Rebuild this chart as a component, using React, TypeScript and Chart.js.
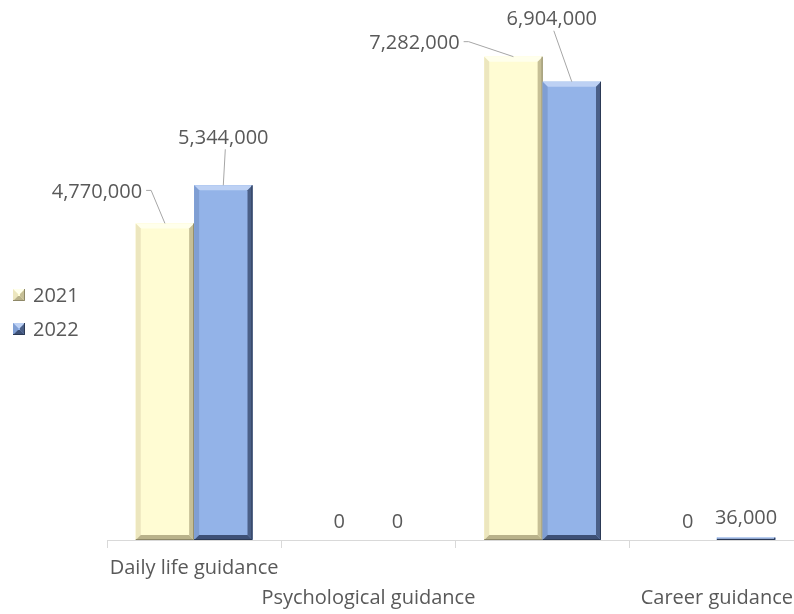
import React, { useEffect, useRef } from "react";
import { Chart, registerables } from "chart.js";

Chart.register(...registerables);

// ---- data ----
const categories = ["Daily life guidance", "Psychological guidance", "", "Career guidance"];
const seriesNames = ["2021", "2022"];
const values2021 = [4770000, 0, 7282000, 0];
const values2022 = [5344000, 0, 6904000, 36000];
const yMax = 8000000;
// data label offsets (label centre relative to bar top centre) and leader-line flags
const labelDx2021 = [-68, 0, -99, 0];
const labelDy2021 = [-31, -18, -13, -18];
const labelDx2022 = [0, 0, -20, 0];
const labelDy2022 = [-47, -18, -62, -19];
const leader2021 = [true, false, true, false];
const leader2022 = [true, false, true, false];

const FONT = "'Open Sans', sans-serif";
const TEXT = "#595959";

type Pal = { fill: string; top: string; left: string; right: string; bottom: string; edge: string };
const palettes: Pal[] = [
  { fill: "#FFFCD3", top: "#FFFFEC", left: "#ECE6BE", right: "#C6BF96", bottom: "#B9B28A", edge: "#8E8868" },
  { fill: "#93B3E8", top: "#BDD1F4", left: "#7F9ED3", right: "#4A5F87", bottom: "#3D5076", edge: "#2C3A55" },
];

function drawBevel(ctx: CanvasRenderingContext2D, l: number, t: number, r: number, b: number, p: Pal) {
  const w = r - l;
  const h = b - t;
  if (w <= 0 || h <= 0.3) return;
  const s = Math.min(5, h / 2, w / 2);
  ctx.save();
  ctx.fillStyle = p.fill;
  ctx.fillRect(l, t, w, h);
  const poly = (pts: number[][], c: string) => {
    ctx.beginPath();
    ctx.moveTo(pts[0][0], pts[0][1]);
    for (let i = 1; i < pts.length; i++) ctx.lineTo(pts[i][0], pts[i][1]);
    ctx.closePath();
    ctx.fillStyle = c;
    ctx.fill();
  };
  poly([[l, t], [r, t], [r - s, t + s], [l + s, t + s]], p.top);
  poly([[l, t], [l + s, t + s], [l + s, b - s], [l, b]], p.left);
  poly([[r, t], [r, b], [r - s, b - s], [r - s, t + s]], p.right);
  poly([[l, b], [l + s, b - s], [r - s, b - s], [r, b]], p.bottom);
  ctx.strokeStyle = p.edge;
  ctx.lineWidth = 1;
  ctx.beginPath();
  ctx.moveTo(r - 0.5, t);
  ctx.lineTo(r - 0.5, b - 0.5);
  ctx.lineTo(l, b - 0.5);
  ctx.stroke();
  ctx.restore();
}

const bevelPlugin = {
  id: "bevel",
  afterDatasetsDraw(chart: any) {
    const ctx = chart.ctx;
    chart.data.datasets.forEach((_: any, di: number) => {
      const meta = chart.getDatasetMeta(di);
      meta.data.forEach((el: any) => {
        const l = el.x - el.width / 2;
        const r = el.x + el.width / 2;
        const t = Math.min(el.y, el.base);
        const b = Math.max(el.y, el.base);
        drawBevel(ctx, l, t, r, b, palettes[di]);
      });
    });
  },
};

const labelPlugin = {
  id: "valueLabels",
  afterDatasetsDraw(chart: any) {
    const ctx = chart.ctx;
    const dxs = [labelDx2021, labelDx2022];
    const dys = [labelDy2021, labelDy2022];
    const leads = [leader2021, leader2022];
    ctx.save();
    ctx.font = `20px ${FONT}`;
    ctx.textAlign = "center";
    ctx.textBaseline = "middle";
    chart.data.datasets.forEach((ds: any, di: number) => {
      const meta = chart.getDatasetMeta(di);
      meta.data.forEach((el: any, j: number) => {
        const v = ds.data[j];
        const txt = v.toLocaleString("en-US");
        const tx = el.x;
        const ty = Math.min(el.y, el.base);
        const cx = tx + dxs[di][j];
        const cy = ty + dys[di][j];
        ctx.fillStyle = TEXT;
        ctx.fillText(txt, cx, cy);
        if (leads[di][j]) {
          const w = ctx.measureText(txt).width;
          ctx.strokeStyle = "#A6A6A6";
          ctx.lineWidth = 1;
          ctx.beginPath();
          if (tx > cx + w / 2) {
            const sx = cx + w / 2 + 4;
            const sy = cy - 2;
            ctx.moveTo(sx, sy);
            ctx.lineTo(sx + 5, sy);
            ctx.lineTo(tx, ty);
          } else {
            ctx.moveTo(cx + 2, cy + 11);
            ctx.lineTo(tx, ty);
          }
          ctx.stroke();
        }
      });
    });
    ctx.restore();
  },
};

const legendPlugin = {
  id: "sideLegend",
  afterDraw(chart: any) {
    const ctx = chart.ctx;
    ctx.save();
    ctx.font = `20px ${FONT}`;
    ctx.textAlign = "left";
    ctx.textBaseline = "middle";
    seriesNames.forEach((name, i) => {
      const cy = 295 + i * 34;
      drawBevel(ctx, 13, cy - 6, 25, cy + 6, palettes[i]);
      ctx.fillStyle = TEXT;
      ctx.fillText(name, 33, cy + 1);
    });
    ctx.restore();
  },
};

export default function App() {
  const ref = useRef<HTMLCanvasElement>(null);
  useEffect(() => {
    if (!ref.current) return;
    const labels = categories.map((c, i) => (i % 2 === 1 ? ["", c] : [c]));
    const chart = new Chart(ref.current, {
      type: "bar",
      data: {
        labels,
        datasets: [
          { label: seriesNames[0], data: values2021, backgroundColor: palettes[0].fill, borderWidth: 0 },
          { label: seriesNames[1], data: values2022, backgroundColor: palettes[1].fill, borderWidth: 0 },
        ],
      },
      options: {
        responsive: false,
        animation: false,
        layout: { padding: { left: 107, right: 6, top: 9, bottom: 1 } },
        datasets: { bar: { barPercentage: 1, categoryPercentage: 0.67 } },
        plugins: { legend: { display: false }, tooltip: { enabled: false } },
        scales: {
          x: {
            grid: { display: true, drawOnChartArea: false, drawTicks: true, tickLength: 8, color: "#D9D9D9", offset: true },
            border: { display: true, color: "#D9D9D9" },
            ticks: {
              autoSkip: false,
              maxRotation: 0,
              minRotation: 0,
              padding: 5,
              color: TEXT,
              font: { family: FONT, size: 20, lineHeight: 1.5 },
            },
          },
          y: { display: false, min: 0, max: yMax },
        },
      },
      plugins: [bevelPlugin, labelPlugin, legendPlugin],
    });
    return () => chart.destroy();
  }, []);
  return (
    <div style={{ position: "absolute", left: 0, top: 0, width: 794, height: 614, overflow: "hidden", background: "#fff" }}>
      <canvas ref={ref} width={810} height={619} style={{ display: "block" }} />
    </div>
  );
}
